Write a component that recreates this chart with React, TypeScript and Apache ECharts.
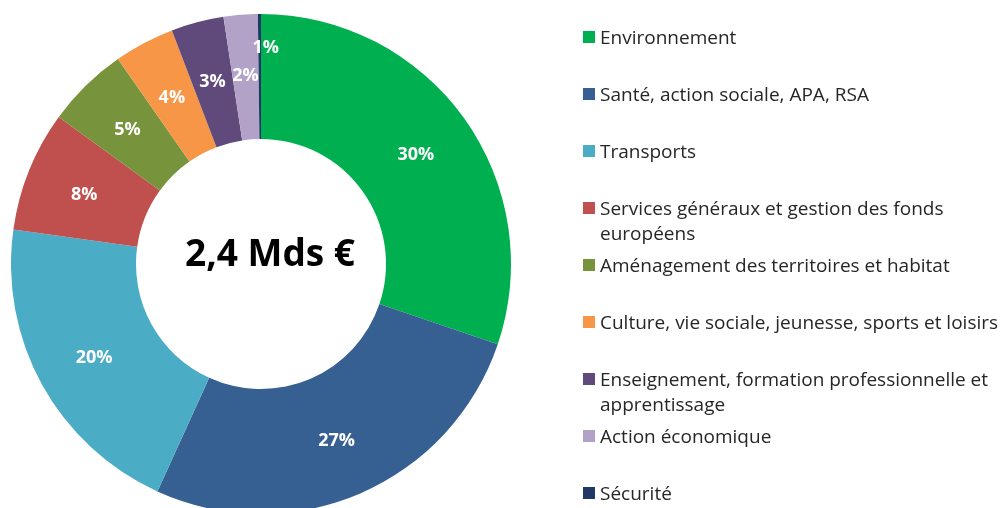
import React, { useEffect, useRef } from "react";
import * as echarts from "echarts";

const categories = [
  "Environnement",
  "Santé, action sociale, APA, RSA",
  "Transports",
  "Services généraux et gestion des fonds européens",
  "Aménagement des territoires et habitat",
  "Culture, vie sociale, jeunesse, sports et loisirs",
  "Enseignement, formation professionnelle et apprentissage",
  "Action économique",
  "Sécurité",
];
const legendLines = [
  ["Environnement"],
  ["Santé, action sociale, APA, RSA"],
  ["Transports"],
  ["Services généraux et gestion des fonds", "européens"],
  ["Aménagement des territoires et habitat"],
  ["Culture, vie sociale, jeunesse, sports et loisirs"],
  ["Enseignement, formation professionnelle et", "apprentissage"],
  ["Action économique"],
  ["Sécurité"],
];
const shares = [30.2, 26.6, 20.4, 7.8, 5.3, 3.9, 3.4, 2.2, 0.2];
const colors = [
  "#00B050",
  "#376092",
  "#4BACC6",
  "#C0504D",
  "#77933C",
  "#F79646",
  "#604A7B",
  "#B3A2C7",
  "#1F3864",
];
const centerText = "2,4 Mds €";

const FONT = "'Open Sans', sans-serif";
const LH = 25;
const LH1 = 19;

export default function App() {
  const ref = useRef<HTMLDivElement>(null);
  useEffect(() => {
    if (!ref.current) return;
    const chart = echarts.init(ref.current, undefined, { renderer: "svg" });
    const legends = categories.map((name, i) => {
      const lines = legendLines[i];
      const two = lines.length > 1;
      const iconCenter = 37 + 57 * i;
      const top = two ? iconCenter - 1.5 * LH : iconCenter - LH1 / 2;
      return {
        data: [name],
        orient: "vertical",
        left: 583,
        top,
        padding: 0,
        itemWidth: 12,
        itemHeight: 12,
        itemGap: 0,
        icon: "rect",
        selectedMode: false,
        formatter: () => (two ? "\n" + lines.join("\n") : lines[0]),
        textStyle: {
          fontFamily: FONT,
          fontSize: 19,
          color: "#262626",
          lineHeight: two ? LH : LH1,
        },
      };
    });
    chart.setOption({
      animation: false,
      legend: legends,
      graphic: [
        {
          type: "text",
          x: 270,
          y: 251,
          style: {
            text: centerText,
            fontFamily: FONT,
            fontSize: 37,
            fontWeight: "bold",
            fill: "#000",
            align: "center",
            verticalAlign: "middle",
          },
        },
      ],
      series: [
        {
          type: "pie",
          center: [261, 264],
          radius: [125, 250],
          startAngle: 90,
          clockwise: true,
          silent: true,
          avoidLabelOverlap: false,
          label: {
            show: true,
            position: "inside",
            color: "#fff",
            fontFamily: FONT,
            fontWeight: "bold",
            fontSize: 18,
            formatter: (p: any) => Math.max(1, Math.round(p.value)) + "%",
          },
          labelLine: { show: false },
          itemStyle: { borderWidth: 0 },
          data: categories.map((name, i) => ({
            name,
            value: shares[i],
            itemStyle: { color: colors[i] },
            label: i === categories.length - 1 ? { offset: [6, -28] } : undefined,
          })),
        },
      ],
    });
    return () => chart.dispose();
  }, []);
  return (
    <div
      ref={ref}
      style={{ position: "fixed", left: 0, top: 0, width: 1000, height: 508 }}
    />
  );
}
